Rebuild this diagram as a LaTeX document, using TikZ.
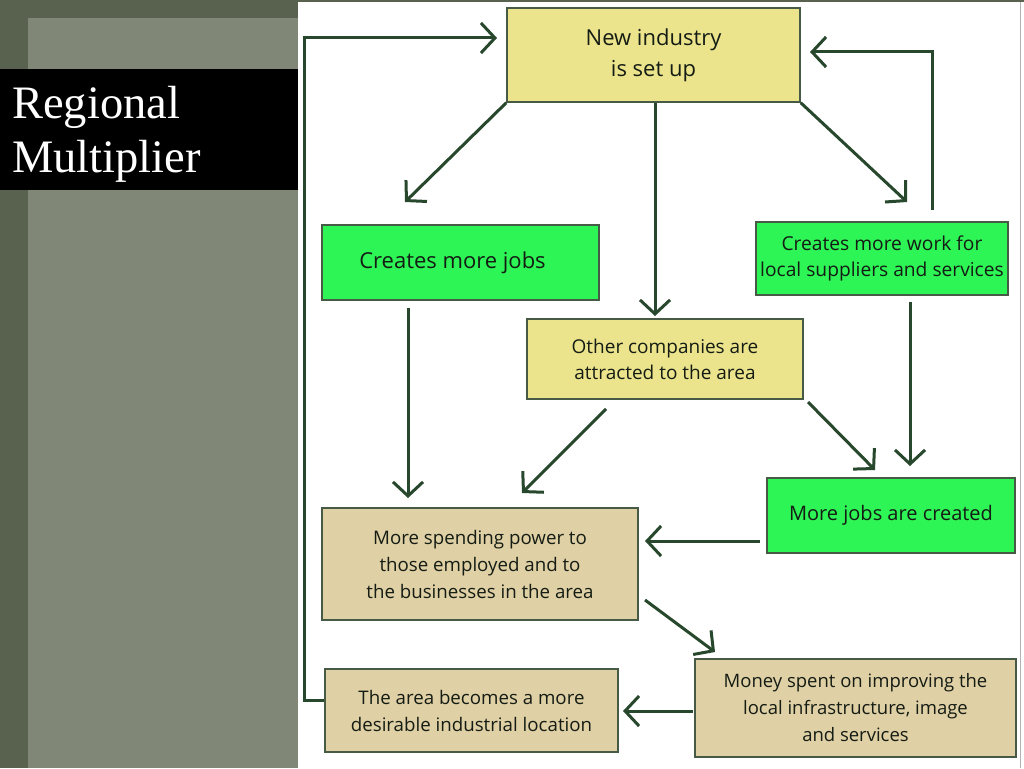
\documentclass[tikz,border=0pt]{standalone}
\usepackage{fontspec}
\setmainfont{Liberation Serif}
\newfontfamily\boxfont{Open Sans}
\usetikzlibrary{arrows.meta}
\definecolor{bgdark}{RGB}{88,98,78}
\definecolor{bglight}{RGB}{128,135,118}
\definecolor{yel}{RGB}{236,228,140}
\definecolor{grn}{RGB}{45,245,85}
\definecolor{tan}{RGB}{224,208,165}
\definecolor{arrc}{RGB}{40,72,45}
\definecolor{bordc}{RGB}{70,90,70}
\definecolor{txtc}{RGB}{20,28,20}
\tikzset{
  box/.style={draw=bordc, line width=1.5pt, align=center, inner sep=0pt,
    text=txtc, font=\boxfont\fontsize{18.7}{27}\selectfont},
  arr/.style={draw=arrc, line width=3pt, -{Straight Barb[length=14pt,width=30pt,line width=3pt]}}
}
\begin{document}
\begin{tikzpicture}[x=1pt,y=-1pt]
\useasboundingbox (0,0) rectangle (1024,768);
% background
\fill[bgdark] (0,0) rectangle (1024,768);
\fill[bglight] (28,18) rectangle (298,768);
\fill[white] (298,2) rectangle (1024,768);
\draw[gray!60, line width=1pt] (1020,2) -- (1020,768);
% title
\fill[black] (0,69) rectangle (298,190);
\node[anchor=base west, text=white, font=\fontsize{46.5}{54}\selectfont, inner sep=0pt] (t1) at (12,118) {Regional};
\node[anchor=base west, text=white, font=\fontsize{46.5}{54}\selectfont, inner sep=0pt] (t2) at (12,172) {Multiplier};
% boxes
\node[box, fill=yel, minimum width=293pt, minimum height=94pt, font=\boxfont\fontsize{22}{31}\selectfont] (ni) at (653.5,55) {New industry\\is set up};
\node[box, fill=grn, minimum width=277pt, minimum height=75pt, font=\boxfont\fontsize{22}{30}\selectfont] (cj) at (460.5,262.5) {Creates more jobs\hspace*{16pt}};
\node[box, fill=grn, minimum width=252pt, minimum height=73pt, font=\boxfont\fontsize{19.2}{26}\selectfont] (cw) at (882,258.5) {Creates more work for\\local suppliers and services};
\node[box, fill=yel, minimum width=276pt, minimum height=80pt, font=\boxfont\fontsize{19}{26}\selectfont] (oc) at (665,359) {Other companies are\\attracted to the area};
\node[box, fill=grn, minimum width=248pt, minimum height=75pt, font=\boxfont\fontsize{20}{27}\selectfont] (mj) at (891,515.5) {More jobs are created};
\node[box, fill=tan, minimum width=316pt, minimum height=112pt] (sp) at (480,564) {More spending power to\\those employed and to\\the businesses in the area};
\node[box, fill=tan, minimum width=321pt, minimum height=98pt, font=\boxfont\fontsize{18.5}{27}\selectfont] (ms) at (855.5,708) {Money spent on improving the\\local infrastructure, image\\and services};
\node[box, fill=tan, minimum width=293pt, minimum height=83pt] (ar) at (471.5,710.5) {The area becomes a more\\desirable industrial location};
% free ends
\coordinate (a1) at (405,202);
\coordinate (a2) at (655,316);
\coordinate (a3) at (907,202);
\coordinate (a4s) at (932,210);
\coordinate (a4c) at (932,52);
\coordinate (a4e) at (810,52);
\coordinate (fb1) at (304,700);
\coordinate (fb2) at (304,38);
\coordinate (fb3) at (497,38);
\coordinate (b1s) at (408,308);
\coordinate (b1e) at (408,498);
\coordinate (b2s) at (606,409);
\coordinate (b2e) at (522,493);
\coordinate (b3s) at (808,402);
\coordinate (b3e) at (875,470);
\coordinate (b4s) at (910,302);
\coordinate (b4e) at (910,466);
\coordinate (c1s) at (760,541);
\coordinate (c1e) at (645,541);
\coordinate (c2s) at (645,600);
\coordinate (c2e) at (715,652);
\coordinate (c3s) at (693,711);
\coordinate (c3e) at (623,711);
% arrows
\draw[arr] (ni.south west) -- (a1);
\draw[arr] (ni.south -| a2) -- (a2);
\draw[arr] (ni.south east) -- (a3);
\draw[arr] (a4s) -- (a4c) -- (a4e);
\draw[arr] (ar.west |- fb1) -- (fb1) -- (fb2) -- (fb3);
\draw[arr] (b1s) -- (b1e);
\draw[arr] (b2s) -- (b2e);
\draw[arr] (b3s) -- (b3e);
\draw[arr] (b4s) -- (b4e);
\draw[arr] (c1s) -- (c1e);
\draw[arr] (c2s) -- (c2e);
\draw[arr] (c3s) -- (c3e);
\end{tikzpicture}
\end{document}
